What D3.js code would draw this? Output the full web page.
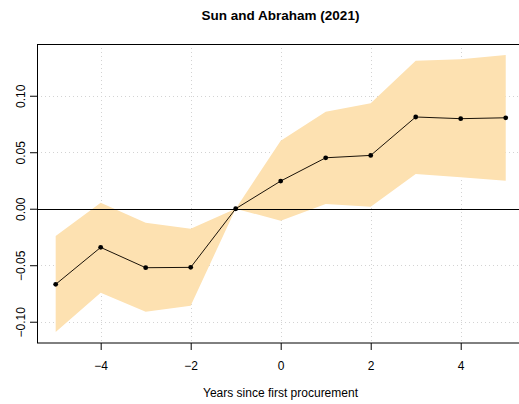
<!DOCTYPE html>
<html><head><meta charset="utf-8">
<script src="https://cdn.jsdelivr.net/npm/d3@7"></script>
<style>body{margin:0;background:#fff}svg{display:block}text{font-family:"Liberation Sans",Arial,Helvetica,sans-serif}</style>
</head><body>
<script>
const years = [-5,-4,-3,-2,-1,0,1,2,3,4,5];
const estimate = [-0.0669,-0.0342,-0.0522,-0.0519,0,0.0245,0.0451,0.0472,0.0812,0.0797,0.0805];
const ciLower = [-0.109,-0.0743,-0.0911,-0.0858,0,-0.0106,0.0042,0.0018,0.0307,0.0278,0.0248];
const ciUpper = [-0.0242,0.0053,-0.0124,-0.0177,0,0.0602,0.0858,0.0933,0.131,0.1322,0.136];
const xTicks = [-4,-2,0,2,4];
const yTicks = [-0.10,-0.05,0.00,0.05,0.10];

const W=519,H=404;
const svg=d3.select("body").append("svg").attr("width",W).attr("height",H);
const x=d3.scaleLinear().domain([-5.415,5.415]).range([37,524.4]);
const y=d3.scaleLinear().domain([-0.1191,0.1458]).range([343.3,44]);
const data=years.map((t,i)=>({t,e:estimate[i],lo:ciLower[i],hi:ciUpper[i]}));

svg.append("defs").append("clipPath").attr("id","c").append("rect")
  .attr("x",37).attr("y",44).attr("width",524.4-37).attr("height",343.3-44);
const g=svg.append("g").attr("clip-path","url(#c)");

// grid
g.selectAll(".gx").data(xTicks).join("line").attr("x1",d=>Math.round(x(d))+0.5).attr("x2",d=>Math.round(x(d))+0.5)
  .attr("y1",44).attr("y2",343.3).attr("stroke","#d3d3d3").attr("stroke-dasharray","1,3");
g.selectAll(".gy").data(yTicks).join("line").attr("y1",d=>Math.round(y(d))+0.5).attr("y2",d=>Math.round(y(d))+0.5)
  .attr("x1",37).attr("x2",524.4).attr("stroke","#d3d3d3").attr("stroke-dasharray","1,3");

// band
g.append("path").datum(data).attr("fill","#fde1b1")
  .attr("d",d3.area().x(d=>x(d.t)).y0(d=>y(d.lo)).y1(d=>y(d.hi)));
// zero line
g.append("line").attr("x1",37).attr("x2",524.4).attr("y1",Math.round(y(0))+0.5).attr("y2",Math.round(y(0))+0.5)
  .attr("stroke","#000").attr("stroke-width",1);
// line
g.append("path").datum(data).attr("fill","none").attr("stroke","#1a1208").attr("stroke-width",1)
  .attr("d",d3.line().x(d=>x(d.t)).y(d=>y(d.e)));
g.selectAll("circle").data(data).join("circle").attr("cx",d=>x(d.t)).attr("cy",d=>y(d.e)).attr("r",2.4).attr("fill","#000");

// box
svg.append("rect").attr("x",37.5).attr("y",44.5).attr("width",524.4-37.5).attr("height",343-44.5)
  .attr("fill","none").attr("stroke","#000").attr("stroke-width",1);

// axes
const xa=svg.append("g").attr("transform","translate(0,343)")
  .call(d3.axisBottom(x).tickValues(xTicks).tickSize(7).tickPadding(11).tickFormat(d=>d3.format("")(d).replace("-","\u2212")));
xa.select(".domain").remove();
xa.selectAll("text").attr("font-size",12).attr("fill","#000").attr("font-family",null);
const ya=svg.append("g").attr("transform","translate(37,0)")
  .call(d3.axisLeft(y).tickValues(yTicks).tickSize(7).tickFormat(d=>d3.format(".2f")(d).replace("-","\u2212")));
ya.select(".domain").remove();
ya.selectAll("text").attr("font-size",12).attr("fill","#000").attr("font-family",null)
  .attr("text-anchor","middle").attr("x",0).attr("dy","0.35em")
  .attr("transform","translate(-16.5,0) rotate(-90)");

svg.append("text").attr("x",280.5).attr("y",20).attr("text-anchor","middle").attr("font-size",13.5).attr("font-weight","bold").text("Sun and Abraham (2021)");
svg.append("text").attr("x",280.5).attr("y",397).attr("text-anchor","middle").attr("font-size",12).text("Years since first procurement");
</script>
</body></html>
